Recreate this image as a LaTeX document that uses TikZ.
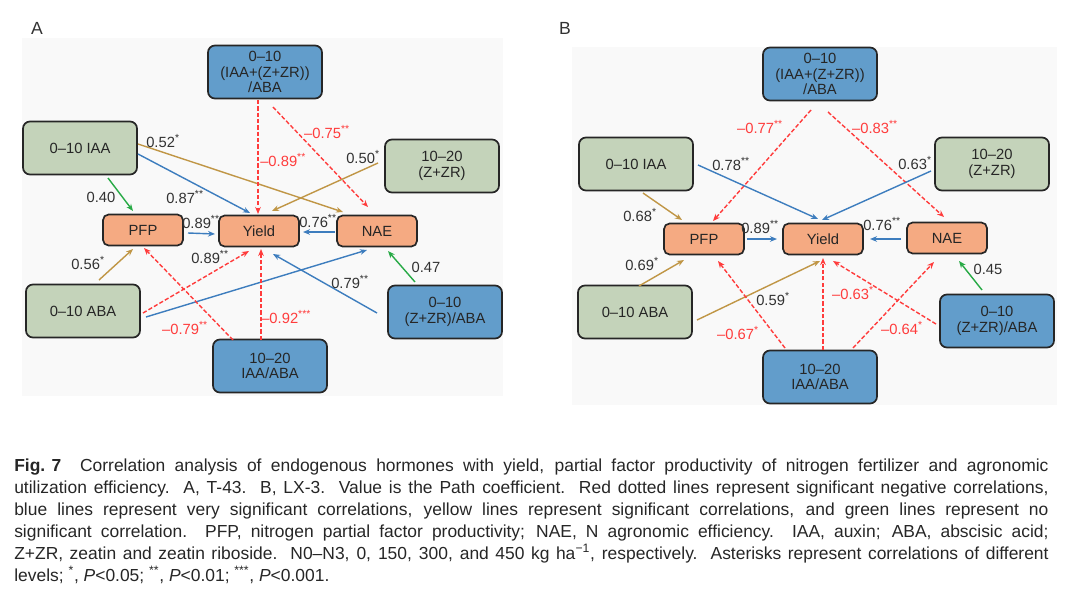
\documentclass[tikz,border=0pt]{standalone}
\usepackage{fontspec}
\setmainfont{Liberation Sans}
\usetikzlibrary{arrows.meta}
\definecolor{boxgreen}{RGB}{196,211,186}
\definecolor{boxblue}{RGB}{98,157,203}
\definecolor{boxorange}{RGB}{245,170,130}
\definecolor{boxline}{RGB}{38,38,38}
\definecolor{lnbrown}{RGB}{192,150,70}
\definecolor{lnblue}{RGB}{61,125,190}
\definecolor{lngreen}{RGB}{40,170,70}
\definecolor{lnred}{RGB}{255,60,60}
\definecolor{txtgray}{RGB}{50,50,50}
\definecolor{panelbg}{RGB}{249,249,249}
\newcommand{\onestar}{\textsuperscript{*}}
\newcommand{\twostar}{\textsuperscript{**}}
\newcommand{\threestar}{\textsuperscript{***}}

\begin{document}
\begin{tikzpicture}[x=0.025cm,y=-0.025cm,>={Stealth[length=5pt,width=4pt]}]
    \tikzstyle{every node}=[font=\fontsize{10.5}{11}\selectfont,text=txtgray];
    \tikzstyle{hbox}=[draw=boxline,line width=1.2pt,rounded corners=5pt,minimum width=2.85cm,minimum height=1.325cm,align=center,inner sep=1pt,text=boxline];
    \tikzstyle{gbox}=[hbox,fill=boxgreen];
    \tikzstyle{bbox}=[hbox,fill=boxblue];
    \tikzstyle{obox}=[hbox,fill=boxorange,minimum width=2cm,minimum height=0.775cm,rounded corners=4pt];
    \tikzstyle{ylink}=[->,draw=lnbrown,line width=1pt];
    \tikzstyle{blink}=[->,draw=lnblue,line width=1pt];
    \tikzstyle{glink}=[->,draw=lngreen,line width=1pt];
    \tikzstyle{rlink}=[->,draw=lnred,line width=1pt,dash pattern=on 3pt off 1.5pt];
    \tikzstyle{coef}=[inner sep=0pt];
    \tikzstyle{negcoef}=[coef,text=lnred];

    \useasboundingbox (0,0) rectangle (1080,599);
    \fill[panelbg] (22,38) rectangle (503,396);
    \fill[panelbg] (572,47) rectangle (1057,405);
    \node at (37, 28) (labA) [font=\fontsize{12.5}{14}\selectfont] {A};
    \node at (565, 28) (labB) [font=\fontsize{12.5}{14}\selectfont] {B};

    % panel A
    \node at (265, 72)  (topA)   [bbox] {0–10\\(IAA+(Z+ZR))\\/ABA};
    \node at (80, 148)  (iaaA)   [gbox] {0–10 IAA};
    \node at (442, 166) (zrA)    [gbox] {10–20\\(Z+ZR)};
    \node at (143, 230) (pfpA)   [obox] {PFP};
    \node at (259, 231) (yldA)   [obox] {Yield};
    \node at (377, 231) (naeA)   [obox] {NAE};
    \node at (83, 311)  (abaA)   [gbox] {0–10 ABA};
    \node at (270, 366) (iaabaA) [bbox] {10–20\\IAA/ABA};
    \node at (445, 312) (zrabaA) [bbox] {0–10\\(Z+ZR)/ABA};

    \draw[ylink] ([shift={(58,-4)}]iaaA.center) to ([shift={(-34,-19)}]naeA.center);
    \draw[blink] ([shift={(58,6)}]iaaA.center) to ([shift={(-9,-18)}]yldA.center);
    \draw[glink] ([shift={(28,30)}]iaaA.center) to ([shift={(-10,-19)}]pfpA.center);
    \draw[rlink] ([shift={(-7,28)}]topA.center) to ([shift={(-1,-17)}]yldA.center);
    \draw[rlink] ([shift={(8,35)}]topA.center) to ([shift={(-9,-24)}]naeA.center);
    \draw[ylink] ([shift={(-64,-3)}]zrA.center) to ([shift={(13,-20)}]yldA.center);
    \draw[blink] ([shift={(45,3)}]pfpA.center) to ([shift={(-44,3)}]yldA.center);
    \draw[blink] ([shift={(-42,1)}]naeA.center) to ([shift={(44,1)}]yldA.center);
    \draw[rlink] ([shift={(60,2)}]abaA.center) to ([shift={(-10,20)}]yldA.center);
    \draw[blink] ([shift={(63,6)}]abaA.center) to ([shift={(-10,19)}]naeA.center);
    \draw[ylink] ([shift={(16,-31)}]abaA.center) to ([shift={(-10,19)}]pfpA.center);
    \draw[rlink] ([shift={(-37,-26)}]iaabaA.center) to ([shift={(1,18)}]pfpA.center);
    \draw[rlink] ([shift={(-9,-26)}]iaabaA.center) to ([shift={(2,18)}]yldA.center);
    \draw[blink] ([shift={(-68,1)}]zrabaA.center) to ([shift={(14,23)}]yldA.center);
    \draw[glink] ([shift={(-30,-30)}]zrabaA.center) to ([shift={(11,20)}]naeA.center);

    \node at (163, 141) (cA1)  [coef] {0.52\onestar};
    \node at (185, 197) (cA2)  [coef] {0.87\twostar};
    \node at (101, 197) (cA3)  [coef] {0.40};
    \node at (260, 160) (cA4)  [negcoef,anchor=west] {–0.89\twostar};
    \node at (327, 132) (cA5)  [negcoef] {–0.75\twostar};
    \node at (363, 157) (cA6)  [coef] {0.50\onestar};
    \node at (201, 222) (cA7)  [coef] {0.89\twostar};
    \node at (318, 221) (cA8)  [coef] {0.76\twostar};
    \node at (210, 257) (cA9)  [coef] {0.89\twostar};
    \node at (88, 263)  (cA10) [coef] {0.56\onestar};
    \node at (185, 328) (cA11) [negcoef] {–0.79\twostar};
    \node at (261, 317) (cA12) [negcoef,anchor=west] {–0.92\threestar};
    \node at (350, 282) (cA13) [coef] {0.79\twostar};
    \node at (426, 267) (cA14) [coef] {0.47};

    % panel B
    \node at (820, 74)  (topB)   [bbox] {0–10\\(IAA+(Z+ZR))\\/ABA};
    \node at (636, 164) (iaaB)   [gbox] {0–10 IAA};
    \node at (992, 164) (zrB)    [gbox] {10–20\\(Z+ZR)};
    \node at (704, 239) (pfpB)   [obox] {PFP};
    \node at (823, 239) (yldB)   [obox] {Yield};
    \node at (947, 238) (naeB)   [obox] {NAE};
    \node at (635, 312) (abaB)   [gbox] {0–10 ABA};
    \node at (820, 377) (iaabaB) [bbox] {10–20\\IAA/ABA};
    \node at (997, 321) (zrabaB) [bbox] {0–10\\(Z+ZR)/ABA};

    \draw[rlink] ([shift={(-9,36)}]topB.center) to ([shift={(9,-18)}]pfpB.center);
    \draw[rlink] ([shift={(8,38)}]topB.center) to ([shift={(-3,-21)}]naeB.center);
    \draw[blink] ([shift={(62,1)}]iaaB.center) to ([shift={(-5,-20)}]yldB.center);
    \draw[ylink] ([shift={(7,29)}]iaaB.center) to ([shift={(-22,-19)}]pfpB.center);
    \draw[blink] ([shift={(-61,7)}]zrB.center) to ([shift={(-1,-19)}]yldB.center);
    \draw[blink] ([shift={(43,0)}]pfpB.center) to ([shift={(-46,0)}]yldB.center);
    \draw[blink] ([shift={(-46,1)}]naeB.center) to ([shift={(47,0)}]yldB.center);
    \draw[ylink] ([shift={(4,-26)}]abaB.center) to ([shift={(-20,21)}]pfpB.center);
    \draw[ylink] ([shift={(62,8)}]abaB.center) to ([shift={(-3,22)}]yldB.center);
    \draw[rlink] ([shift={(-35,-29)}]iaabaB.center) to ([shift={(14,22)}]pfpB.center);
    \draw[rlink] ([shift={(3,-27)}]iaabaB.center) to ([shift={(0,19)}]yldB.center);
    \draw[rlink] ([shift={(33,-29)}]iaabaB.center) to ([shift={(-13,24)}]naeB.center);
    \draw[rlink] ([shift={(-61,3)}]zrabaB.center) to ([shift={(10,22)}]yldB.center);
    \draw[glink] ([shift={(-15,-31)}]zrabaB.center) to ([shift={(12,23)}]naeB.center);

    \node at (760, 127) (cB1)  [negcoef] {–0.77\twostar};
    \node at (875, 127) (cB2)  [negcoef] {–0.83\twostar};
    \node at (731, 164) (cB3)  [coef] {0.78\twostar};
    \node at (640, 215) (cB4)  [coef] {0.68\onestar};
    \node at (915, 163) (cB5)  [coef] {0.63\onestar};
    \node at (760, 227) (cB6)  [coef] {0.89\twostar};
    \node at (882, 224) (cB7)  [coef] {0.76\twostar};
    \node at (642, 264) (cB8)  [coef] {0.69\onestar};
    \node at (773, 299) (cB9)  [coef] {0.59\onestar};
    \node at (738, 333) (cB10) [negcoef] {–0.67\onestar};
    \node at (902, 328) (cB11) [negcoef] {–0.64\onestar};
    \node at (853, 293) (cB12) [negcoef] {–0.63\onestar};
    \node at (988, 269) (cB13) [coef] {0.45};

    % caption
    \node at (14, 471) (cap) [anchor=base west,text width=25.85cm,align=justify,inner sep=0pt,text=black!85,font=\fontsize{12.4}{15.65}\selectfont]
    {\hbox{\textbf{Fig. 7}}\ \ Correlation analysis of endogenous hormones with yield, partial factor productivity of nitrogen fertilizer and agronomic\linebreak
    utilization efficiency.\ \ A, T-43.\ \ B, LX-3.\ \ Value is the Path coefficient.\ \ Red dotted lines represent significant negative correlations,\linebreak
    blue lines represent very significant correlations, yellow lines represent significant correlations, and green lines represent no\linebreak
    significant correlation.\ \ PFP, nitrogen partial factor productivity; NAE, N agronomic efficiency.\ \ IAA, auxin; ABA, abscisic acid;\linebreak
    Z+ZR, zeatin and zeatin riboside.\ \ N0–N3, 0, 150, 300, and 450 kg ha\textsuperscript{−1}, respectively.\ \ Asterisks represent correlations of different\linebreak
    levels; \textsuperscript{*}, \textit{P}<0.05; \textsuperscript{**}, \textit{P}<0.01; \textsuperscript{***}, \textit{P}<0.001.};
\end{tikzpicture}
\end{document}
